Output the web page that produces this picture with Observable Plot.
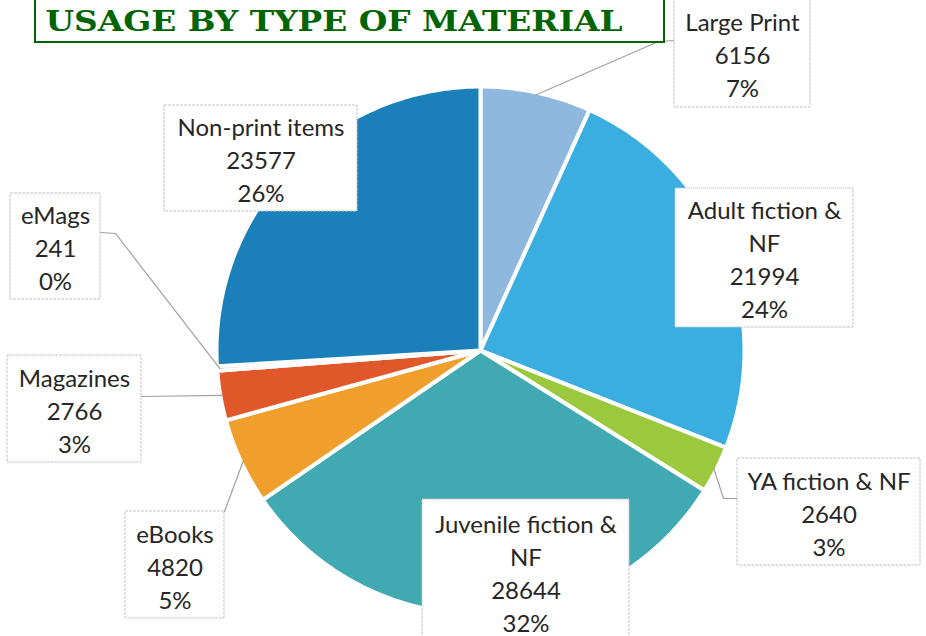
<!DOCTYPE html>
<html>
<head>
<meta charset="utf-8">
<script src="https://cdn.jsdelivr.net/npm/d3@7"></script>
<script src="https://cdn.jsdelivr.net/npm/@observablehq/plot@0.6"></script>
<style>
  body { margin: 0; background: #ffffff; }
  svg { display: block; }
</style>
</head>
<body>
<div id="chart"></div>
<script>
// ---- data ----
const titleText = "USAGE BY TYPE OF MATERIAL";
const categories = ["Large Print", "Adult fiction & NF", "YA fiction & NF", "Juvenile fiction & NF", "eBooks", "Magazines", "eMags", "Non-print items"];
const labelNames = ["Large Print", "Adult fiction &\nNF", "YA fiction & NF", "Juvenile fiction &\nNF", "eBooks", "Magazines", "eMags", "Non-print items"];
const values = [6156, 21994, 2640, 28644, 4820, 2766, 241, 23577];
const percents = ["7%", "24%", "3%", "32%", "5%", "3%", "0%", "26%"];
const colors = ["#8fb8de", "#3aade1", "#9bc93e", "#41a9b1", "#f09e2c", "#e0582a", "#a5a5a5", "#1b7fba"];

// ---- layout (pixels) ----
const W = 926, H = 636, CX = 480, CY = 350, R = 264;
const boxes = [
  {x1: 674, x2: 810, y1: -2,  y2: 107, leader: [[674, 40], [658, 41]]},
  {x1: 675, x2: 853, y1: 188, y2: 327, leader: null},
  {x1: 737, x2: 920, y1: 458, y2: 565, leader: [[737, 498], [723, 498]]},
  {x1: 422, x2: 629, y1: 499, y2: 644, leader: null},
  {x1: 125, x2: 224, y1: 511, y2: 618, leader: [[224, 511]]},
  {x1: 7,   x2: 141, y1: 355, y2: 462, leader: [[141, 396]]},
  {x1: 10,  x2: 100, y1: 193, y2: 299, leader: [[100, 232], [115, 233]]},
  {x1: 164, x2: 357, y1: 105, y2: 211, leader: null}
];
const px2x = p => (p - CX) / R;
const py2y = p => (CY - p) / R;

const rows = categories.map((name, i) => ({name, value: values[i], pct: percents[i], label: labelNames[i]}));
const arcs = d3.pie().sort(null).value(d => d.value)(rows);

// slice polygons in pie-radius units
const slicePts = arcs.flatMap(a => {
  const name = a.data.name;
  const pts = [{name, x: 0, y: 0}];
  const n = Math.max(2, Math.ceil((a.endAngle - a.startAngle) / (Math.PI / 180)));
  for (let i = 0; i <= n; i++) {
    const t = a.startAngle + (a.endAngle - a.startAngle) * i / n;
    pts.push({name, x: Math.sin(t), y: Math.cos(t)});
  }
  pts.push({name, x: 0, y: 0});
  return pts;
});

// leader lines: box anchor(s) -> slice edge at mid angle
const leaderPts = arcs.flatMap((a, i) => {
  const b = boxes[i];
  if (!b.leader) return [];
  const m = (a.startAngle + a.endAngle) / 2;
  const pts = b.leader.map(([px, py]) => ({name: a.data.name, x: px2x(px), y: py2y(py)}));
  pts.push({name: a.data.name, x: Math.sin(m) * 0.99, y: Math.cos(m) * 0.99});
  return pts;
});

const labelRows = rows.map((d, i) => {
  const b = boxes[i];
  return {
    ...d,
    x1: px2x(b.x1), x2: px2x(b.x2), y1: py2y(b.y1), y2: py2y(b.y2),
    tx: px2x((b.x1 + b.x2) / 2), ty: py2y((b.y1 + b.y2) / 2),
    text: `${d.label}\n${d.value}\n${d.pct}`
  };
});

const chart = Plot.plot({
  width: W,
  height: H,
  margin: 0,
  style: {background: "#ffffff"},
  x: {domain: [px2x(0), px2x(W)], axis: null},
  y: {domain: [py2y(H), py2y(0)], axis: null},
  color: {domain: categories, range: colors},
  marks: [
    Plot.line(slicePts, {x: "x", y: "y", z: "name", fill: "name", stroke: "white", strokeWidth: 4, strokeLinejoin: "miter"}),
    Plot.line(leaderPts, {x: "x", y: "y", z: "name", stroke: "#a0a0a0", strokeWidth: 1.2}),
    Plot.rect(labelRows, {x1: "x1", x2: "x2", y1: "y1", y2: "y2", fill: "white", stroke: "#c4c4c4", strokeWidth: 1, strokeDasharray: "3,1"}),
    Plot.text(labelRows, {x: "tx", y: "ty", text: "text", fontSize: 24, lineHeight: 1.375, fill: "#262626", fontFamily: "Lato, 'Noto Sans', sans-serif"}),
    Plot.rect([titleText], {x1: px2x(35), x2: px2x(664), y1: py2y(-5), y2: py2y(42), fill: "white", stroke: "#006400", strokeWidth: 2}),
    Plot.text([titleText], {x: px2x(45), y: py2y(30), text: d => d, textAnchor: "start", lineAnchor: "bottom", fontSize: 28, fontWeight: "bold", fontFamily: "'DejaVu Serif', serif", fill: "#006400"})
  ]
});

chart.querySelectorAll("text").forEach(t => {
  if (t.textContent === titleText) {
    t.setAttribute("textLength", "577");
    t.setAttribute("lengthAdjust", "spacingAndGlyphs");
  }
});

document.getElementById("chart").appendChild(chart);
</script>
</body>
</html>
